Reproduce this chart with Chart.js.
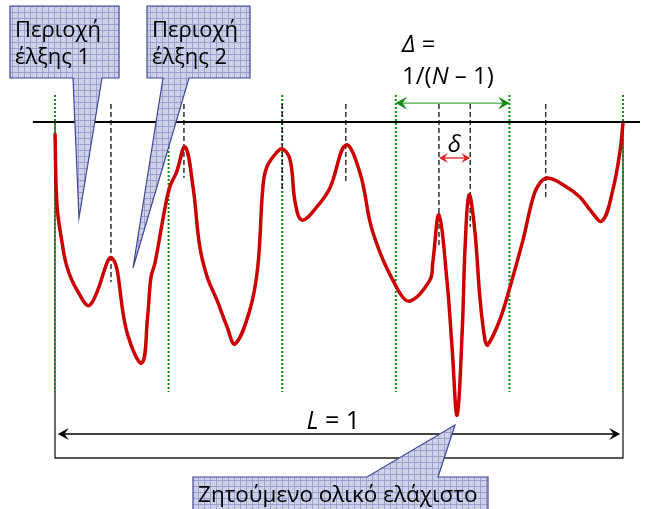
<!DOCTYPE html>
<html>
<head>
<meta charset="utf-8">
<script src="https://cdn.jsdelivr.net/npm/chart.js@4.4.1/dist/chart.umd.min.js"></script>
<style>
  html, body { margin: 0; padding: 0; background: #fff; }
</style>
</head>
<body>
<canvas id="chart" width="652" height="509"></canvas>
<script>
// objective function f(x) on the unit interval
const curveX = [0, 0.0035, 0.0123, 0.0211, 0.0387, 0.0616, 0.100, 0.127, 0.153, 0.163, 0.169, 0.176, 0.193, 0.202, 0.214, 0.229,
  0.243, 0.255, 0.268, 0.285, 0.303, 0.317, 0.343, 0.357, 0.366, 0.373, 0.391, 0.401, 0.414, 0.423,
  0.435, 0.461, 0.484, 0.512, 0.537, 0.560, 0.604, 0.625, 0.660, 0.665, 0.676, 0.690, 0.699, 0.708,
  0.717, 0.722, 0.729, 0.739, 0.748, 0.757, 0.762, 0.783, 0.801, 0.824, 0.842, 0.854, 0.868, 0.898,
  0.924, 0.942, 0.963, 0.982, 0.995, 1.0];
const curveF = [-0.037, -0.277, -0.4, -0.483, -0.56, -0.61, -0.453, -0.703, -0.803, -0.65, -0.517, -0.47, -0.293, -0.217, -0.167, -0.083,
  -0.217, -0.417, -0.517, -0.593, -0.683, -0.74, -0.627, -0.483, -0.217, -0.15, -0.10, -0.09, -0.127, -0.27,
  -0.327, -0.283, -0.22, -0.077, -0.17, -0.37, -0.56, -0.597, -0.527, -0.47, -0.31, -0.527, -0.75, -0.977,
  -0.693, -0.417, -0.243, -0.36, -0.583, -0.727, -0.743, -0.66, -0.55, -0.393, -0.25, -0.203, -0.187, -0.213,
  -0.25, -0.293, -0.33, -0.227, -0.093, -0.003];

// N = 6 equally spaced sampling points, spacing Δ = 1/(N - 1)
const gridX = [0, 0.2, 0.4, 0.6, 0.8, 1];
// local maxima markers (x and lower end of the dashed marker)
const peakX = [0.0986, 0.227, 0.400, 0.512, 0.676, 0.731, 0.864];
const peakLow = [-0.533, -0.187, -0.227, -0.207, -0.41, -0.35, -0.25];

const region1Label = ['Περιοχή', 'έλξης 1'];
const region2Label = ['Περιοχή', 'έλξης 2'];
const minimumLabel = 'Ζητούμενο ολικό ελάχιστο';

const FONT = '"Open Sans", "Noto Sans", sans-serif';

const datasets = [{
  data: curveX.map((x, i) => ({ x: x, y: curveF[i] })),
  borderColor: '#cc0000',
  borderWidth: 3.5,
  pointRadius: 0,
  tension: 0.4,
  order: 0
}];
gridX.forEach(x => datasets.push({
  data: [{ x: x, y: 0.09 }, { x: x, y: -0.9 }],
  borderColor: '#0a8a0a',
  borderWidth: 2,
  borderDash: [2, 2],
  pointRadius: 0,
  order: 2
}));
peakX.forEach((x, i) => datasets.push({
  data: [{ x: x, y: 0.06 }, { x: x, y: peakLow[i] }],
  borderColor: '#111',
  borderWidth: 1.3,
  borderDash: [5, 3],
  pointRadius: 0,
  order: 1
}));

function arrowHead(ctx, x, y, dir, size, color) {
  // stealth style head pointing along dir (+1 right, -1 left)
  ctx.save();
  ctx.fillStyle = color;
  ctx.beginPath();
  ctx.moveTo(x, y);
  ctx.lineTo(x - dir * size, y - size * 0.55);
  ctx.lineTo(x - dir * size * 0.6, y);
  ctx.lineTo(x - dir * size, y + size * 0.55);
  ctx.closePath();
  ctx.fill();
  ctx.restore();
}

function doubleArrow(ctx, x1, x2, y, color, width, size) {
  ctx.save();
  ctx.strokeStyle = color;
  ctx.lineWidth = width;
  ctx.beginPath();
  ctx.moveTo(x1 + 3, y);
  ctx.lineTo(x2 - 3, y);
  ctx.stroke();
  ctx.restore();
  arrowHead(ctx, x1, y, -1, size, color);
  arrowHead(ctx, x2, y, 1, size, color);
}

function runs(ctx, x, y, parts, size, align) {
  // draw text made of normal and italic pieces
  ctx.save();
  ctx.fillStyle = '#000';
  ctx.textBaseline = 'middle';
  let total = 0;
  parts.forEach(p => {
    ctx.font = (p[1] ? 'italic ' : '') + size + 'px ' + FONT;
    total += ctx.measureText(p[0]).width;
  });
  let cx = align === 'center' ? x - total / 2 : x;
  parts.forEach(p => {
    ctx.font = (p[1] ? 'italic ' : '') + size + 'px ' + FONT;
    ctx.textAlign = 'left';
    ctx.fillText(p[0], cx, y);
    cx += ctx.measureText(p[0]).width;
  });
  ctx.restore();
}

function hatch(ctx) {
  const p = document.createElement('canvas');
  p.width = 6; p.height = 6;
  const g = p.getContext('2d');
  g.fillStyle = '#d3d5ea';
  g.fillRect(0, 0, 6, 6);
  g.fillStyle = '#bfc2df';
  for (let i = 0; i < 6; i += 2) for (let j = (i / 2) % 2; j < 6; j += 2) g.fillRect(i, j, 1, 1);
  g.fillStyle = '#9a9fcc';
  g.fillRect(0, 0, 6, 1);
  g.fillRect(0, 0, 1, 6);
  return ctx.createPattern(p, 'repeat');
}

function callout(ctx, pts) {
  ctx.save();
  ctx.beginPath();
  pts.forEach((p, i) => i ? ctx.lineTo(p[0], p[1]) : ctx.moveTo(p[0], p[1]));
  ctx.closePath();
  ctx.fillStyle = hatch(ctx);
  ctx.fill();
  ctx.strokeStyle = '#3c4795';
  ctx.lineWidth = 1.2;
  ctx.stroke();
  ctx.restore();
}

const decorations = {
  id: 'decorations',
  beforeDatasetsDraw(chart) {
    const ctx = chart.ctx;
    const sx = chart.scales.x, sy = chart.scales.y;
    const X = v => sx.getPixelForValue(v), Y = v => sy.getPixelForValue(v);
    ctx.save();
    // box under the interval [0, 1]
    ctx.strokeStyle = '#222';
    ctx.lineWidth = 1.3;
    ctx.beginPath();
    ctx.moveTo(X(0), Y(0));
    ctx.lineTo(X(0), Y(-1.12));
    ctx.lineTo(X(1), Y(-1.12));
    ctx.lineTo(X(1), Y(0));
    ctx.stroke();
    // f = 0 reference line
    ctx.strokeStyle = '#000';
    ctx.lineWidth = 2;
    ctx.beginPath();
    ctx.moveTo(X(-0.039), Y(0));
    ctx.lineTo(X(1.03), Y(0));
    ctx.stroke();
    ctx.restore();
  },
  afterDatasetsDraw(chart) {
    const ctx = chart.ctx;
    const sx = chart.scales.x, sy = chart.scales.y;
    const X = v => sx.getPixelForValue(v), Y = v => sy.getPixelForValue(v);

    // L = 1
    doubleArrow(ctx, X(0.005), X(0.995), Y(-1.04), '#000', 1.3, 11);
    runs(ctx, X(0.49), Y(-1.0), [['L', true], [' = 1', false]], 25, 'center');

    // Δ = 1/(N - 1)
    doubleArrow(ctx, X(0.6), X(0.8), Y(0.063), '#4aa84a', 1.3, 11);
    arrowHead(ctx, X(0.6), Y(0.063), -1, 11, '#158a15');
    arrowHead(ctx, X(0.8), Y(0.063), 1, 11, '#158a15');
    runs(ctx, X(0.611), Y(0.257), [['Δ', true], [' =', false]], 24, 'left');
    runs(ctx, X(0.611), Y(0.15), [['1/(', false], ['N', true], [' – 1)', false]], 24, 'left');

    // δ between the two close maxima
    doubleArrow(ctx, X(0.676), X(0.731), Y(-0.12), '#dd2222', 1.3, 9);
    runs(ctx, X(0.703), Y(-0.077), [['δ', true]], 24, 'center');

    // callouts
    callout(ctx, [[10, 6], [119, 6], [119, 78], [102, 78], [79, 218], [73, 78], [10, 78]]);
    callout(ctx, [[147, 6], [250, 6], [250, 78], [189, 78], [133, 268], [163, 78], [147, 78]]);
    callout(ctx, [[193, 477], [367, 477], [455, 425], [438, 477], [488, 477], [488, 512], [193, 512]]);

    ctx.save();
    ctx.fillStyle = '#000';
    ctx.textBaseline = 'alphabetic';
    ctx.textAlign = 'left';
    ctx.font = '22px ' + FONT;
    ctx.fillText(region1Label[0], 15, 37);
    ctx.fillText(region1Label[1], 15, 64);
    ctx.fillText(region2Label[0], 152, 37);
    ctx.fillText(region2Label[1], 152, 64);
    ctx.font = '22.5px ' + FONT;
    ctx.fillText(minimumLabel, 198, 502);
    ctx.restore();
  }
};

new Chart(document.getElementById('chart'), {
  type: 'line',
  data: { datasets: datasets },
  options: {
    responsive: false,
    animation: false,
    events: [],
    layout: { padding: { left: 55, right: 29, top: 92, bottom: 27 } },
    plugins: { legend: { display: false }, tooltip: { enabled: false } },
    scales: {
      x: { type: 'linear', min: 0, max: 1, display: false },
      y: { type: 'linear', min: -1.2, max: 0.1, display: false }
    },
    elements: { line: { fill: false } },
    clip: false
  },
  plugins: [decorations]
});
</script>
</body>
</html>
